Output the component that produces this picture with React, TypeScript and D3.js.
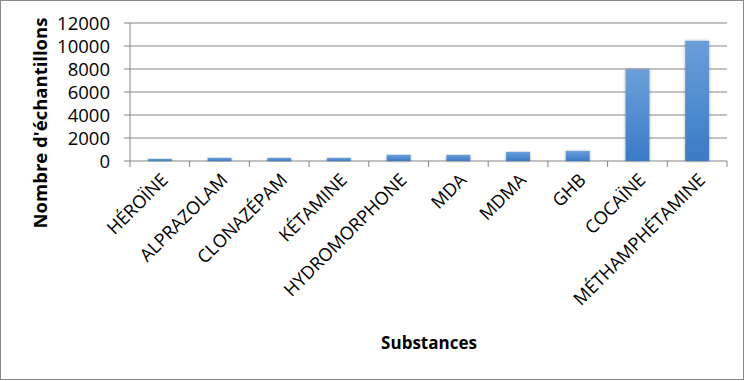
import React from "react";
import * as d3 from "d3";

const categories = ["HÉROÏNE", "ALPRAZOLAM", "CLONAZÉPAM", "KÉTAMINE", "HYDROMORPHONE", "MDA", "MDMA", "GHB", "COCAÏNE", "MÉTHAMPHÉTAMINE"];
const values = [180, 270, 260, 260, 530, 520, 790, 870, 7980, 10450];
const yTicks = [0, 2000, 4000, 6000, 8000, 10000, 12000];

const W = 751, H = 381;
const left = 130, right = 727, top = 23, bottom = 161;
const FONT = "'Open Sans', 'Liberation Sans', sans-serif";

export default function App() {
  const x = d3.scaleBand<string>().domain(categories).range([left, right]).paddingInner(0.6).paddingOuter(0.3);
  const xc = d3.scaleBand<string>().domain(categories).range([left, right]);
  const y = d3.scaleLinear().domain([0, 12000]).range([bottom, top]);
  return (
    <svg width={W} height={H} style={{ position: "absolute", left: 0, top: 0 }}>
      <defs>
        <linearGradient id="barg" x1="0" y1="0" x2="0" y2="1">
          <stop offset="0" stopColor="#6a9fda" />
          <stop offset="1" stopColor="#3b7bc6" />
        </linearGradient>
        <filter id="sh" x="-30%" y="-10%" width="160%" height="130%">
          <feGaussianBlur in="SourceAlpha" stdDeviation="1.5" />
          <feOffset dx="0" dy="0" result="b" />
          <feComponentTransfer><feFuncA type="linear" slope="0.35" /></feComponentTransfer>
          <feMerge><feMergeNode /><feMergeNode in="SourceGraphic" /></feMerge>
        </filter>
      </defs>
      <rect x={0} y={0} width={W} height={H} fill="#fff" />
      <rect x={0.5} y={0.5} width={743} height={379} fill="none" stroke="#888" strokeWidth={1} />
      {yTicks.map((t) => (
        <g key={t}>
          {t > 0 && <line x1={left} x2={right} y1={y(t)} y2={y(t)} stroke="#868686" strokeWidth={1} />}
          <line x1={left - 6} x2={left} y1={y(t)} y2={y(t)} stroke="#868686" />
          <text x={110} y={y(t)} dy="0.36em" textAnchor="end" fontFamily={FONT} fontSize={18.5} fill="#000">{t}</text>
        </g>
      ))}
      <line x1={left} x2={left} y1={top} y2={bottom} stroke="#868686" />
      <line x1={left} x2={right} y1={bottom} y2={bottom} stroke="#868686" />
      {categories.map((c) => (
        <line key={c} x1={xc(c) as number} x2={xc(c) as number} y1={bottom} y2={bottom + 6} stroke="#868686" />
      ))}
      <line x1={right} x2={right} y1={bottom} y2={bottom + 6} stroke="#868686" />
      {categories.map((c, i) => (
        <rect key={c} x={x(c)} y={y(values[i])} width={x.bandwidth()} height={bottom - y(values[i])} fill="url(#barg)" filter="url(#sh)" />
      ))}
      {categories.map((c) => {
        const cx = (xc(c) as number) + xc.bandwidth() / 2;
        return (
          <text key={c} transform={`translate(${cx},${bottom + 11}) rotate(-45)`} textAnchor="end" dy="0.72em" fontFamily={FONT} fontSize={18} fill="#000">{c}</text>
        );
      })}
      <text transform={`translate(47,${123}) rotate(-90)`} textAnchor="middle" fontFamily={FONT} fontSize={18.5} fontWeight="bold" fill="#000">Nombre d'échantillons</text>
      <text x={429} y={349} textAnchor="middle" fontFamily={FONT} fontSize={17} fontWeight="bold" fill="#000">Substances</text>
    </svg>
  );
}
